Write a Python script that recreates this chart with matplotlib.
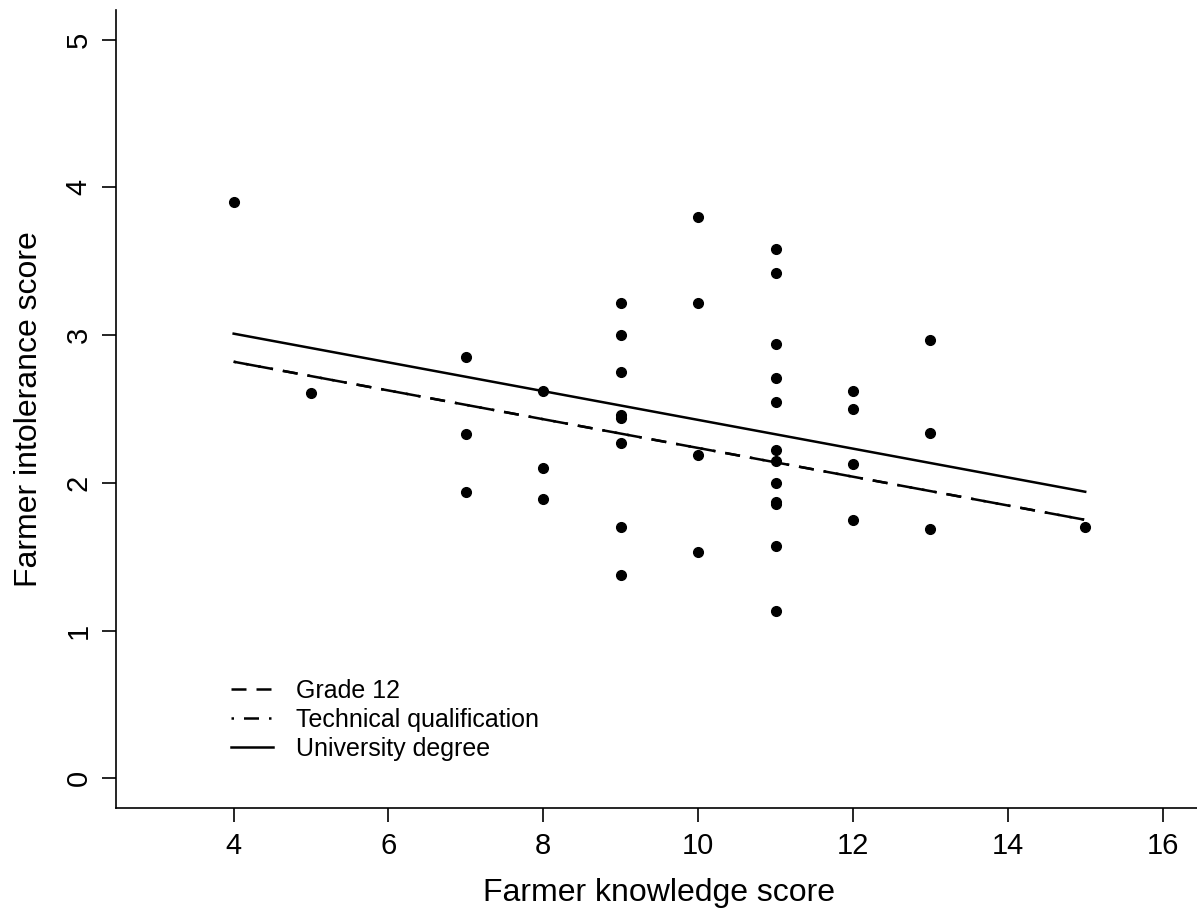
import matplotlib
matplotlib.use("Agg")
import matplotlib.pyplot as plt

plt.rcParams['font.family'] = ['Liberation Sans', 'DejaVu Sans']

# observed points
knowledge = [4, 5, 7, 7, 7, 8, 8, 8, 9, 9, 9, 9, 9, 9, 9, 9,
             10, 10, 10, 10, 11, 11, 11, 11, 11, 11, 11, 11, 11, 11, 11, 11,
             12, 12, 12, 12, 13, 13, 13, 15]
intolerance = [3.90, 2.61, 2.85, 2.33, 1.94, 2.62, 2.10, 1.89,
               3.22, 3.00, 2.75, 2.46, 2.44, 2.27, 1.70, 1.38,
               3.80, 3.22, 2.19, 1.53,
               3.58, 3.42, 2.94, 2.71, 2.55, 2.22, 2.15, 2.00, 1.87, 1.86, 1.57, 1.13,
               2.62, 2.50, 2.13, 1.75,
               2.97, 2.34, 1.69, 1.70]

# fitted lines (endpoints at x=4 and x=15)
fit_x = [4, 15]
grade12 = [2.82, 1.75]
technical = [2.82, 1.75]
university = [3.01, 1.94]

fig = plt.figure(figsize=(11.97, 9.14), dpi=100)
ax = fig.add_axes([0.0969, 0.116, 0.908, 0.873])

ax.plot(knowledge, intolerance, 'o', color='black', markersize=7, zorder=3)
ax.plot(fit_x, grade12, color='black', lw=1.8, dashes=(6, 4), label='Grade 12')
ax.plot(fit_x, technical, color='black', lw=1.8, dashes=(1, 4, 6, 4), label='Technical qualification')
ax.plot(fit_x, university, color='black', lw=1.8, label='University degree')

ax.set_xlim(2.48, 16.52)
ax.set_ylim(-0.2, 5.2)
ax.set_xticks([4, 6, 8, 10, 12, 14, 16])
ax.set_yticks([0, 1, 2, 3, 4, 5])
ax.spines['top'].set_visible(False)
ax.spines['right'].set_visible(False)
for s in ['left', 'bottom']:
    ax.spines[s].set_linewidth(1.2)
ax.tick_params(axis='both', direction='out', length=10, width=1.2, labelsize=21, pad=7)
for lbl in ax.get_yticklabels():
    lbl.set_rotation(90)
    lbl.set_va('center')

ax.set_xlabel('Farmer knowledge score', fontsize=23, labelpad=13)
ax.set_ylabel('Farmer intolerance score', fontsize=23, labelpad=15)

ax.legend(loc='lower left', bbox_to_anchor=(0.085, 0.031), frameon=False, fontsize=18,
          handlelength=1.7, handletextpad=0.9, labelspacing=0.2)

fig.savefig('out.png', dpi=100)
